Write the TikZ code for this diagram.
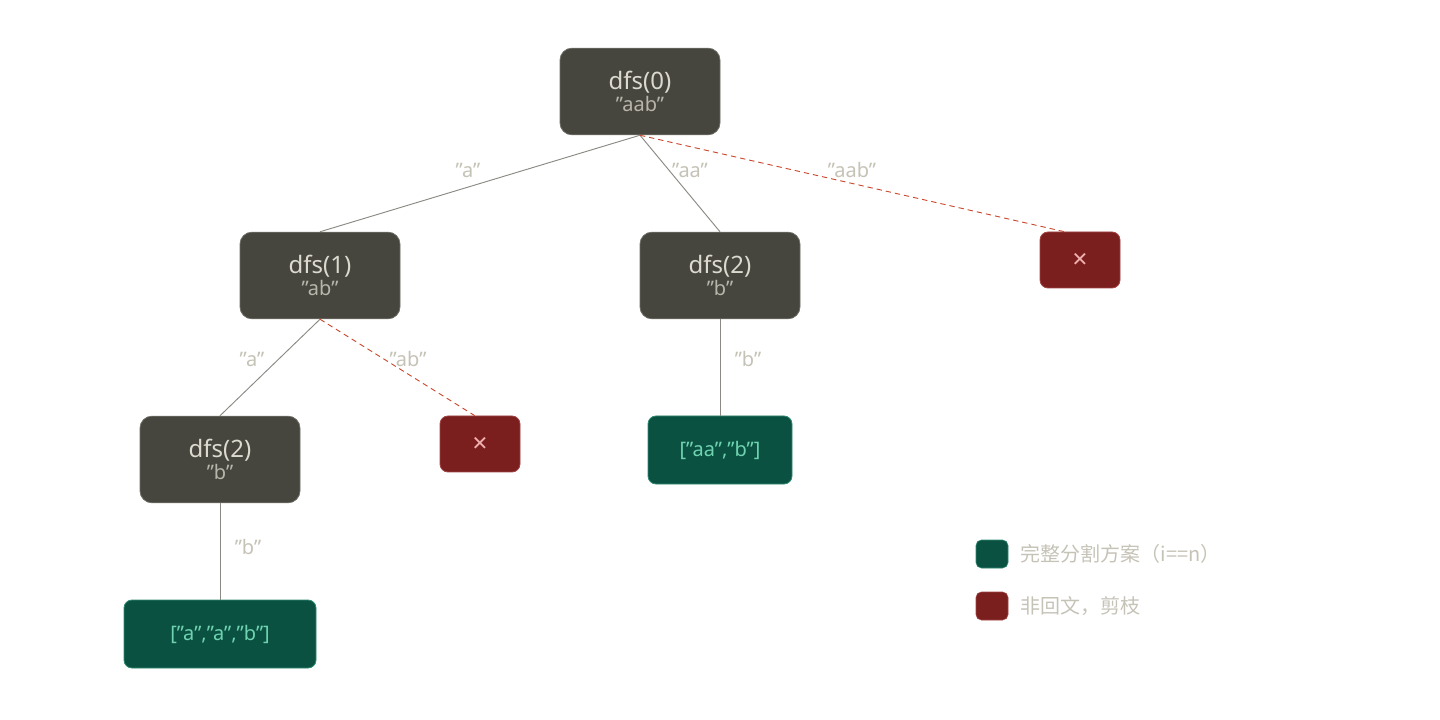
\documentclass[tikz,border=0pt]{standalone}
\usepackage{fontspec}
\setmainfont{Noto Sans}
\newfontfamily\cjkf{Noto Sans CJK SC}
\newfontfamily\dejav{DejaVu Sans}
\begin{document}
\begin{tikzpicture}[x=0.75pt,y=-0.75pt,
  dfs/.style={draw=nodeb,fill=nodef,rounded corners=9pt,minimum width=120pt,minimum height=65pt,align=center,inner sep=0pt,line width=0.6pt},
  cut/.style={draw=redb,fill=redf,rounded corners=6pt,minimum width=60pt,minimum height=42pt,inner sep=0pt,line width=0.6pt},
  ok/.style={draw=greenb,fill=greenf,rounded corners=6pt,minimum height=51pt,inner sep=0pt,text=greent,font=\fontsize{15}{18}\selectfont,line width=0.6pt},
  edge/.style={draw=edgec,line width=0.7pt},
  pr/.style={draw=redl,dash pattern=on 4pt off 3pt,line width=0.7pt},
  el/.style={text=lab,font=\fontsize{15}{18}\selectfont}]
\definecolor{nodef}{HTML}{46463F}
\definecolor{nodeb}{HTML}{6E6D66}
\definecolor{lab}{HTML}{C5C2B6}
\definecolor{t1}{HTML}{DCD9CE}
\definecolor{t2}{HTML}{B8B5AA}
\definecolor{redf}{HTML}{7A1E1E}
\definecolor{redb}{HTML}{A04444}
\definecolor{greenf}{HTML}{0B5142}
\definecolor{greenb}{HTML}{2E8A70}
\definecolor{greent}{HTML}{6FD3B0}
\definecolor{edgec}{HTML}{8A8983}
\definecolor{redl}{HTML}{C84A30}
\definecolor{crossc}{HTML}{F0B0B0}
\useasboundingbox (0,0) rectangle (1440,720);
\newcommand{\dl}[2]{{\fontsize{18}{21}\selectfont\bfseries\color{t1}#1}\\[1pt]{\fontsize{15}{18}\selectfont\color{t2}#2}}
\node[dfs] (n0) at (640,91.5) {\dl{dfs(0)}{"aab"}};
\node[dfs] (n1) at (320,275.5) {\dl{dfs(1)}{"ab"}};
\node[dfs] (n2r) at (720,275.5) {\dl{dfs(2)}{"b"}};
\node[dfs] (n2l) at (220,459.5) {\dl{dfs(2)}{"b"}};
\node[cut] (x1) at (1080,260) {\textcolor{crossc}{\dejav\fontsize{15}{18}\selectfont ✕}};
\node[cut] (x2) at (480,444) {\textcolor{crossc}{\dejav\fontsize{15}{18}\selectfont ✕}};
\node[ok,minimum width=108pt] (g1) at (720,450) {["aa","b"]};
\node[ok,minimum width=144pt] (g2) at (220,634) {["a","a","b"]};
\draw[edge] (n0.south) -- (n1.north);
\draw[edge] (n0.south) -- (n2r.north);
\draw[pr] (n0.south) -- ([xshift=-12pt]x1.north);
\draw[edge] (n1.south) -- (n2l.north);
\draw[pr] (n1.south) -- ([xshift=-4pt]x2.north);
\draw[edge] (n2r.south) -- (g1.north);
\draw[edge] (n2l.south) -- (g2.north);
\node[el] (l1) at (468,170) {"a"};
\node[el] (l2) at (690,170) {"aa"};
\node[el] (l3) at (852,170) {"aab"};
\node[el] (l4) at (252,359) {"a"};
\node[el] (l5) at (408,359) {"ab"};
\node[el] (l6) at (748,359) {"b"};
\node[el] (l7) at (248,547) {"b"};
\node[draw=greenb,fill=greenf,rounded corners=4pt,minimum width=24pt,minimum height=21pt,inner sep=0pt] (k1) at (992,554) {};
\node[draw=redb,fill=redf,rounded corners=4pt,minimum width=24pt,minimum height=21pt,inner sep=0pt] (k2) at (992,606) {};
\node[el,anchor=west,font=\cjkf\fontsize{15}{18}\selectfont] (kt1) at (1016,554) {完整分割方案（i==n）};
\node[el,anchor=west,font=\cjkf\fontsize{15}{18}\selectfont] (kt2) at (1016,606) {非回文，剪枝};
\end{tikzpicture}
\end{document}
